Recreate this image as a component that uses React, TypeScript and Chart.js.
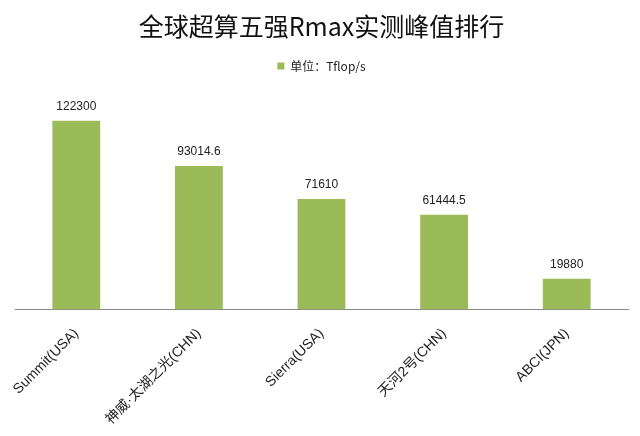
import React, { useEffect, useRef } from "react";
import { Chart, registerables } from "chart.js";

Chart.register(...registerables);

const categories = ["Summit(USA)", "神威·太湖之光(CHN)", "Sierra(USA)", "天河2号(CHN)", "ABCI(JPN)"];
const values = [122300, 93014.6, 71610, 61444.5, 19880];
const valueLabels = ["122300", "93014.6", "71610", "61444.5", "19880"];
const seriesName = "单位：Tflop/s";
const titleText = "全球超算五强Rmax实测峰值排行";
const yMax = 147500;

const valueLabelPlugin = {
  id: "valueLabels",
  afterDatasetsDraw(chart: any) {
    const ctx = chart.ctx;
    const meta = chart.getDatasetMeta(0);
    ctx.save();
    ctx.font = "12px 'Liberation Sans', Arial, sans-serif";
    ctx.fillStyle = "#222";
    ctx.textAlign = "center";
    ctx.textBaseline = "bottom";
    meta.data.forEach((el: any, i: number) => {
      ctx.fillText(valueLabels[i], el.x, el.y - 8);
    });
    ctx.restore();
  },
};

export default function App() {
  const ref = useRef<HTMLCanvasElement>(null);
  useEffect(() => {
    document.body.style.margin = "0";
    const chart = new Chart(ref.current!, {
      type: "bar",
      data: {
        labels: categories,
        datasets: [
          {
            label: seriesName,
            data: values,
            backgroundColor: "#9BBB59",
            borderWidth: 0,
            categoryPercentage: 1,
            barPercentage: 0.39,
          },
        ],
      },
      options: {
        animation: false,
        responsive: false,
        devicePixelRatio: 1,
        layout: { padding: { left: 15, right: 12, top: 0, bottom: 0 } },
        plugins: {
          title: {
            display: true,
            text: titleText,
            color: "#111",
            font: { family: "'Noto Sans CJK SC', sans-serif", size: 25, weight: "normal" },
            padding: { top: 11, bottom: 11 },
          },
          legend: {
            display: true,
            position: "top",
            labels: {
              boxWidth: 7,
              boxHeight: 7,
              color: "#222",
              font: { family: "'Noto Sans CJK SC', sans-serif", size: 12 },
              padding: 8,
            },
          },
          tooltip: { enabled: false },
        },
        scales: {
          x: {
            grid: { display: false },
            border: { display: true, color: "#888", width: 1 },
            ticks: {
              maxRotation: 45,
              minRotation: 45,
              color: "#222",
              font: { family: "'Liberation Sans', 'Noto Sans CJK SC', sans-serif", size: 14 },
              padding: 8,
            },
          },
          y: {
            display: false,
            min: 0,
            max: yMax,
          },
        },
      },
      plugins: [valueLabelPlugin],
    });
    return () => chart.destroy();
  }, []);
  return (
    <div style={{ width: 640, height: 436, background: "#fff" }}>
      <canvas ref={ref} width={640} height={436} style={{ display: "block" }} />
    </div>
  );
}
